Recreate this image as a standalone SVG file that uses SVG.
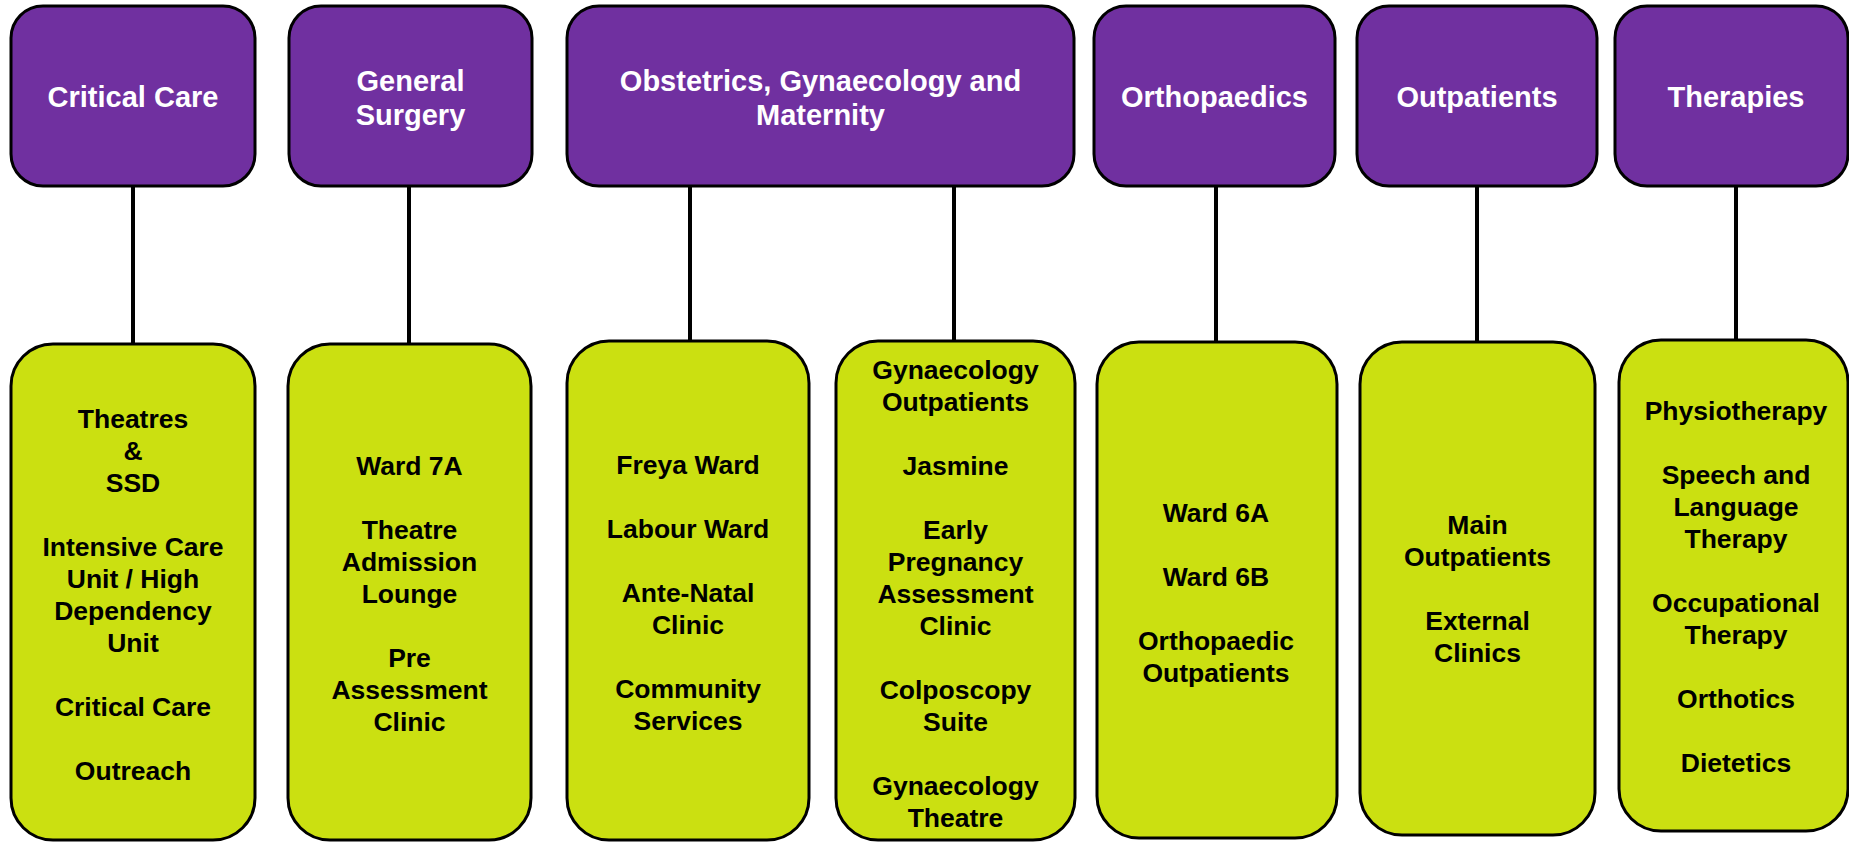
<svg xmlns="http://www.w3.org/2000/svg" width="1849" height="842" viewBox="0 0 1849 842">
<style>
.top{fill:#7030A0;stroke:#000;stroke-width:3}
.bot{fill:#CBE011;stroke:#000;stroke-width:3}
.tt{font-family:"Liberation Sans",Arial,sans-serif;font-weight:bold;font-size:29px;fill:#fff;text-anchor:middle}
.bt{font-family:"Liberation Sans",Arial,sans-serif;font-weight:bold;font-size:26.5px;fill:#000;text-anchor:middle}
.con{stroke:#000;stroke-width:4;fill:none}
</style>
<rect width="1849" height="842" fill="#fff"/>
<g id="connectors">
<line class="con" x1="133" y1="186" x2="133" y2="344"/>
<line class="con" x1="409" y1="186" x2="409" y2="344"/>
<line class="con" x1="690" y1="183" x2="690" y2="341"/>
<line class="con" x1="954" y1="186" x2="954" y2="341"/>
<line class="con" x1="1216" y1="186" x2="1216" y2="342"/>
<line class="con" x1="1477" y1="186" x2="1477" y2="342"/>
<line class="con" x1="1736" y1="184" x2="1736" y2="340"/>
</g>
<g id="critical-care">
<rect class="top" x="11" y="6" width="244" height="180" rx="32"/>
<text class="tt" x="133" y="107">Critical Care</text>
</g>
<g id="general-surgery">
<rect class="top" x="289" y="6" width="243" height="180" rx="32"/>
<text class="tt"><tspan x="410.5" y="90.5">General</tspan><tspan x="410.5" y="124.5">Surgery</tspan></text>
</g>
<g id="obstetrics">
<rect class="top" x="567" y="6" width="507" height="180" rx="32"/>
<text class="tt"><tspan x="820.5" y="90.5">Obstetrics, Gynaecology and</tspan><tspan x="820.5" y="124.5">Maternity</tspan></text>
</g>
<g id="orthopaedics">
<rect class="top" x="1094" y="6" width="241" height="180" rx="32"/>
<text class="tt" x="1214.5" y="107">Orthopaedics</text>
</g>
<g id="outpatients">
<rect class="top" x="1357" y="6" width="240" height="180" rx="32"/>
<text class="tt" x="1477" y="107">Outpatients</text>
</g>
<g id="therapies">
<rect class="top" x="1615" y="6" width="233" height="180" rx="32"/>
<text class="tt" x="1736" y="107">Therapies</text>
</g>
<g id="critical-care-units">
<rect class="bot" x="11" y="344" width="244" height="496" rx="42"/>
<text class="bt"><tspan x="133" y="428">Theatres</tspan><tspan x="133" y="460">&amp;</tspan><tspan x="133" y="492">SSD</tspan><tspan x="133" y="556">Intensive Care</tspan><tspan x="133" y="588">Unit / High</tspan><tspan x="133" y="620">Dependency</tspan><tspan x="133" y="652">Unit</tspan><tspan x="133" y="716">Critical Care</tspan><tspan x="133" y="780">Outreach</tspan></text>
</g>
<g id="general-surgery-units">
<rect class="bot" x="288" y="344" width="243" height="496" rx="42"/>
<text class="bt"><tspan x="409.5" y="475">Ward 7A</tspan><tspan x="409.5" y="539">Theatre</tspan><tspan x="409.5" y="571">Admission</tspan><tspan x="409.5" y="603">Lounge</tspan><tspan x="409.5" y="667">Pre</tspan><tspan x="409.5" y="699">Assessment</tspan><tspan x="409.5" y="731">Clinic</tspan></text>
</g>
<g id="maternity-units">
<rect class="bot" x="567" y="341" width="242" height="499" rx="42"/>
<text class="bt"><tspan x="688" y="474">Freya Ward</tspan><tspan x="688" y="538">Labour Ward</tspan><tspan x="688" y="602">Ante-Natal</tspan><tspan x="688" y="634">Clinic</tspan><tspan x="688" y="698">Community</tspan><tspan x="688" y="730">Services</tspan></text>
</g>
<g id="gynaecology-units">
<rect class="bot" x="836" y="341" width="239" height="499" rx="42"/>
<text class="bt"><tspan x="955.5" y="379">Gynaecology</tspan><tspan x="955.5" y="411">Outpatients</tspan><tspan x="955.5" y="475">Jasmine</tspan><tspan x="955.5" y="539">Early</tspan><tspan x="955.5" y="571">Pregnancy</tspan><tspan x="955.5" y="603">Assessment</tspan><tspan x="955.5" y="635">Clinic</tspan><tspan x="955.5" y="699">Colposcopy</tspan><tspan x="955.5" y="731">Suite</tspan><tspan x="955.5" y="795">Gynaecology</tspan><tspan x="955.5" y="827">Theatre</tspan></text>
</g>
<g id="orthopaedics-units">
<rect class="bot" x="1097" y="342" width="240" height="496" rx="42"/>
<text class="bt"><tspan x="1216" y="522">Ward 6A</tspan><tspan x="1216" y="586">Ward 6B</tspan><tspan x="1216" y="650">Orthopaedic</tspan><tspan x="1216" y="682">Outpatients</tspan></text>
</g>
<g id="outpatients-units">
<rect class="bot" x="1360" y="342" width="235" height="493" rx="42"/>
<text class="bt"><tspan x="1477.5" y="534">Main</tspan><tspan x="1477.5" y="566">Outpatients</tspan><tspan x="1477.5" y="630">External</tspan><tspan x="1477.5" y="662">Clinics</tspan></text>
</g>
<g id="therapies-units">
<rect class="bot" x="1619" y="340" width="229" height="491" rx="42"/>
<text class="bt"><tspan x="1736" y="420">Physiotherapy</tspan><tspan x="1736" y="484">Speech and</tspan><tspan x="1736" y="516">Language</tspan><tspan x="1736" y="548">Therapy</tspan><tspan x="1736" y="612">Occupational</tspan><tspan x="1736" y="644">Therapy</tspan><tspan x="1736" y="708">Orthotics</tspan><tspan x="1736" y="772">Dietetics</tspan></text>
</g>
</svg>
